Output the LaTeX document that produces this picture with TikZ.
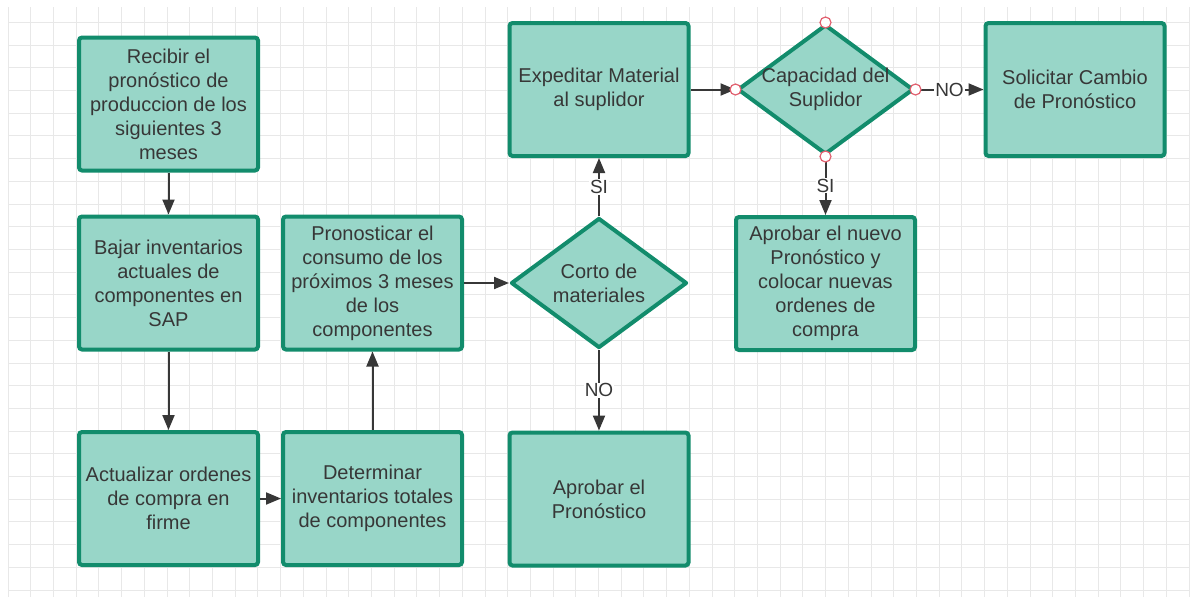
\documentclass[tikz,border=0pt]{standalone}
\usepackage{fontspec}
\setmainfont{Liberation Sans}
\usetikzlibrary{arrows.meta,shapes.geometric}
\definecolor{boxfill}{RGB}{152,214,200}
\definecolor{boxedge}{RGB}{18,140,108}
\definecolor{inkcolor}{RGB}{55,55,55}
\definecolor{handlecolor}{RGB}{225,95,110}
\tikzset{
  gridln/.style={line width=0.8pt, gray!18},
  procbox/.style={draw=boxedge, fill=boxfill, line width=4pt, rounded corners=3pt,
    minimum width=179pt, minimum height=133pt, inner sep=2pt, align=center,
    text=inkcolor, font=\fontsize{20}{24}\selectfont},
  decision/.style={diamond, aspect=1.35, draw=boxedge, fill=boxfill, line width=4pt,
    line join=round, minimum width=176pt, minimum height=130pt, inner sep=-14pt,
    align=center, text=inkcolor, font=\fontsize{20}{24}\selectfont},
  flowln/.style={-{Triangle[length=15pt,width=12pt]}, line width=2pt, inkcolor},
  choice/.style={fill=white, inner sep=1pt, text=inkcolor, font=\fontsize{19}{22}\selectfont},
}
\newcommand{\handlept}[1]{%
  \filldraw[fill=white, draw=handlecolor, line width=1.2pt] #1 circle (5.5pt);
}

\begin{document}
\begin{tikzpicture}[x=1pt, y=-1pt]
  \useasboundingbox (0,0) rectangle (1196,600);
  % background grid
  \foreach \k in {0,...,52}
    \draw[gridln] ({8+22.71*\k},7) -- ({8+22.71*\k},597);
  \foreach \k in {0,...,25}
    \draw[gridln] (8,{590-22.71*\k}) -- (1189,{590-22.71*\k});

  \node[procbox] (recibir) at (168.5,104) {Recibir el\\pronóstico de\\produccion de los\\siguientes 3\\meses};
  \node[procbox] (bajar) at (168.5,283) {Bajar inventarios\\actuales de\\componentes en\\SAP};
  \node[procbox] (actualizar) at (168.5,498.5) {Actualizar ordenes\\de compra en\\firme};
  \node[procbox] (determinar) at (372.5,498.5) {Determinar\\inventarios totales\\de componentes};
  \node[procbox] (pronosticar) at (372.5,283) {Pronosticar el\\consumo de los\\próximos 3 meses\\de los\\componentes};
  \node[decision] (corto) at (599,283) {Corto de\\materiales};
  \node[procbox] (aprobar) at (599,499) {Aprobar el\\Pronóstico};
  \node[procbox] (expeditar) at (599,89.5) {Expeditar Material\\al suplidor};
  \node[decision] (capacidad) at (825.5,89.5) {Capacidad del\\Suplidor};
  \node[procbox] (solicitar) at (1075,89.5) {Solicitar Cambio\\de Pronóstico};
  \node[procbox] (nuevo) at (825.5,283.5) {Aprobar el nuevo\\Pronóstico y\\colocar nuevas\\ordenes de\\compra};

  \draw[flowln] (recibir) -- (bajar);
  \draw[flowln] (bajar) -- (actualizar);
  \draw[flowln] (actualizar) -- (determinar);
  \draw[flowln] (determinar) -- (pronosticar);
  \draw[flowln] (pronosticar.east) -- (corto.west);
  \draw[flowln] (corto.north) -- node[choice] {SI} (expeditar.south);
  \draw[flowln] (corto.south) -- node[choice] {NO} (aprobar.north);
  \draw[flowln] (expeditar.east) -- (capacidad.west);
  \draw[flowln] (capacidad.east) -- node[choice] {NO} (solicitar.west);
  \draw[flowln] (capacidad.south) -- node[choice] {SI} (nuevo.north);

  % selection handles
  \foreach \a in {north,south,east,west}{
    \handlept{(capacidad.\a)}
  }
\end{tikzpicture}
\end{document}
